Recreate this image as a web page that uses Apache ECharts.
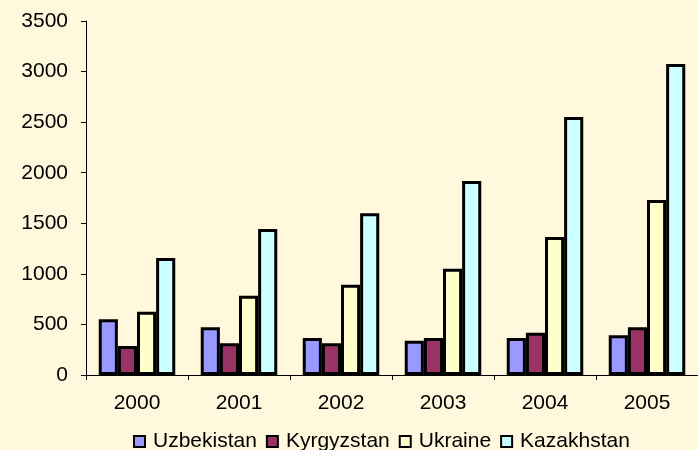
<!DOCTYPE html>
<html>
<head>
<meta charset="utf-8">
<script src="https://cdn.jsdelivr.net/npm/echarts@6/dist/echarts.min.js"></script>
<style>
  html, body { margin: 0; padding: 0; background: #FFF8DC; }
  #chart { width: 698px; height: 450px; }
</style>
</head>
<body>
<div id="chart"></div>
<script>
// Years on the category axis
const years = ['2000', '2001', '2002', '2003', '2004', '2005'];

// Values per country
const uzbekistan = [551, 472, 366, 339, 366, 392];
const kyrgyzstan = [287, 313, 313, 366, 418, 472];
const ukraine    = [626, 784, 893, 1051, 1364, 1730];
const kazakhstan = [1157, 1443, 1599, 1918, 2551, 3075];

// Value axis range
const yMin = 0;
const yMax = 3500;
const yStep = 500;

const font = 'Liberation Sans, Arial, sans-serif';

function barSeries(name, data, color) {
  return {
    name: name,
    type: 'bar',
    data: data,
    barGap: '0%',
    barCategoryGap: '25%',
    itemStyle: { color: color, borderColor: '#000', borderWidth: 3 },
    emphasis: { disabled: true }
  };
}

const chart = echarts.init(document.getElementById('chart'), null, { renderer: 'canvas' });
chart.setOption({
  backgroundColor: '#FFF8DC',
  animation: false,
  grid: { left: 86, top: 21, width: 617, height: 354 },
  legend: {
    left: 128,
    top: 426,
    itemWidth: 11,
    itemHeight: 11,
    itemGap: 9,
    icon: 'rect',
    itemStyle: { borderColor: '#000', borderWidth: 2 },
    textStyle: { fontFamily: font, fontSize: 21, color: '#000', padding: [0, 0, 0, 3] },
    data: ['Uzbekistan', 'Kyrgyzstan', 'Ukraine', 'Kazakhstan']
  },
  xAxis: {
    type: 'category',
    data: years,
    axisLine: { lineStyle: { color: '#000', width: 1 } },
    axisTick: { show: true, length: 5, lineStyle: { color: '#000' } },
    axisLabel: { fontFamily: font, fontSize: 21, color: '#000', margin: 18 }
  },
  yAxis: {
    type: 'value',
    min: yMin,
    max: yMax,
    interval: yStep,
    splitLine: { show: false },
    axisLine: { show: true, lineStyle: { color: '#000', width: 1 } },
    axisTick: { show: true, length: 5, lineStyle: { color: '#000' } },
    axisLabel: {
      fontFamily: font, fontSize: 21, color: '#000', margin: 18,
      formatter: function (v) { return String(v); }
    }
  },
  series: [
    barSeries('Uzbekistan', uzbekistan, '#9999FF'),
    barSeries('Kyrgyzstan', kyrgyzstan, '#993366'),
    barSeries('Ukraine', ukraine, '#FFFFCC'),
    barSeries('Kazakhstan', kazakhstan, '#CCFFFF')
  ]
});
</script>
</body>
</html>
